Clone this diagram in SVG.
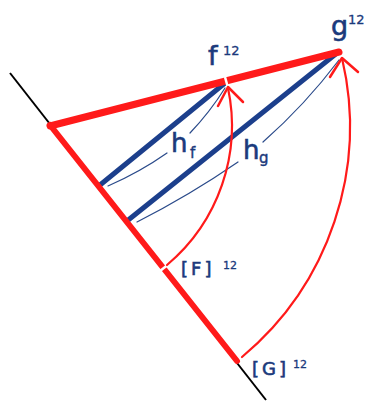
<svg xmlns="http://www.w3.org/2000/svg" width="366" height="405" viewBox="0 0 366 405">
<style>
.red{stroke:#ff1a1a;fill:none;stroke-linecap:round;stroke-linejoin:round}
.thick{stroke:#1c3f8c;stroke-width:5;stroke-linecap:round;fill:none}
.thin{stroke:#2a4a8a;stroke-width:1.2;fill:none;stroke-linecap:round}
.gap{stroke:#ffffff;stroke-width:2.5}
text{font-family:"DejaVu Sans","Noto Sans",sans-serif;fill:#1b3a7c;stroke:#1b3a7c;stroke-width:0.6px}
.big{font-size:27px}
.mid{font-size:18px;letter-spacing:3px}
.sup{font-size:13px;stroke-width:0.3px}
.sub{font-size:15px;stroke-width:0.4px}
</style>
<rect width="366" height="405" fill="#ffffff"/>
<g id="axis">
<line x1="10" y1="73" x2="266" y2="400" stroke="#000" stroke-width="2"/>
</g>
<g id="connectors">
<path class="thick" d="M100,185 L225,83"/>
<path class="thick" d="M127,221 L337,53"/>
<path class="red" stroke-width="6" d="M50,125 L237,361"/>
<path class="red" stroke-width="7" d="M50,126 L339,52"/>
<line class="gap" x1="160" y1="271" x2="167" y2="265.5"/>
<line class="gap" x1="225" y1="77" x2="227.5" y2="86"/>
<path class="thin" d="M108,186 Q140,172 167,153"/>
<path class="thin" d="M190,133 Q210,112 225,88"/>
<path class="thin" d="M137,222 Q190,195 238,162"/>
<path class="thin" d="M263,142 Q305,105 339,60"/>
<path class="red" stroke-width="2.2" d="M167,265 A182 182 0 0 0 228,88"/>
<path class="red" stroke-width="2.2" d="M242,357 A300 300 0 0 0 342,58"/>
<path class="red" stroke-width="2.5" d="M218,106 L228,87 L243,102"/>
<path class="red" stroke-width="2.5" d="M330,77 L342,58 L358,72"/>
</g>
<g id="f12"><text class="big" x="208" y="65">f</text><text class="sup" x="223" y="55">12</text></g>
<g id="g12"><text class="big" x="331" y="35">g</text><text class="sup" x="348" y="24">12</text></g>
<g id="F12"><text class="mid" x="181" y="275">[F]</text><text class="sup" x="223" y="269" style="font-size:11px">12</text></g>
<g id="G12"><text class="mid" x="252" y="375">[G]</text><text class="sup" x="293" y="368" style="font-size:11px">12</text></g>
<g id="hf"><text class="big" x="171" y="152" style="font-size:26px">h</text><text class="sub" x="190" y="158">f</text></g>
<g id="hg"><text class="big" x="243" y="159" style="font-size:26px">h</text><text class="sub" x="259" y="163">g</text></g>
</svg>
